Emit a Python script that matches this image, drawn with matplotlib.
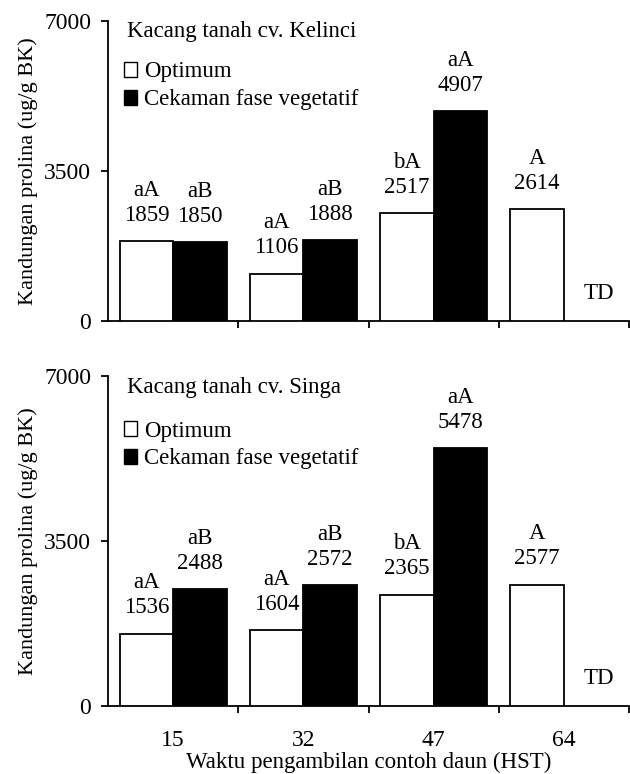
import matplotlib
matplotlib.use("Agg")
import matplotlib.pyplot as plt
from matplotlib.patches import Patch

plt.rcParams['font.family'] = ['Liberation Serif', 'DejaVu Serif']

groups = ["15", "32", "47", "64"]
titles = ["Kacang tanah cv. Kelinci", "Kacang tanah cv. Singa"]
series_names = ["Optimum", "Cekaman fase vegetatif"]

kel_opt = [1859, 1106, 2517, 2614]
kel_str = [1850, 1888, 4907, None]
kel_opt_let = ["aA", "aA", "bA", "A"]
kel_str_let = ["aB", "aB", "aA", None]

sin_opt = [1536, 1604, 2365, 2577]
sin_str = [2488, 2572, 5478, None]
sin_opt_let = ["aA", "aA", "bA", "A"]
sin_str_let = ["aB", "aB", "aA", None]

yticks = [0, 3500, 7000]
td_label = "TD"
ylabel = "Kandungan prolina (ug/g BK)"
xlabel = "Waktu pengambilan contoh daun (HST)"

fig = plt.figure(figsize=(6.3, 7.74), dpi=100)
W, H = 630, 774
def axrect(l, t, r, b):
    return [l / W, 1 - b / H, (r - l) / W, (b - t) / H]

ax1 = fig.add_axes(axrect(108, 21, 629, 321))
ax2 = fig.add_axes(axrect(108, 376, 629, 706))

width = 0.41
fs = 16.5

def draw(ax, opt, stre, optl, strl, title, show_x):
    xs = list(range(1, len(groups) + 1))
    for i, x in enumerate(xs):
        ax.bar(x - width / 2, opt[i], width, color='white', edgecolor='black', linewidth=1.3, zorder=3)
        ax.annotate(str(opt[i]), (x - width / 2, opt[i]), xytext=(0, 18.5), textcoords='offset points',
                    ha='center', va='center', fontsize=fs)
        ax.annotate(optl[i], (x - width / 2, opt[i]), xytext=(0, 36.5), textcoords='offset points',
                    ha='center', va='center', fontsize=fs)
        if stre[i] is not None:
            ax.bar(x + width / 2, stre[i], width, color='black', edgecolor='black', linewidth=1.3, zorder=3)
            ax.annotate(str(stre[i]), (x + width / 2, stre[i]), xytext=(0, 18.5), textcoords='offset points',
                        ha='center', va='center', fontsize=fs)
            ax.annotate(strl[i], (x + width / 2, stre[i]), xytext=(0, 36.5), textcoords='offset points',
                        ha='center', va='center', fontsize=fs)
        else:
            ax.annotate(td_label, (x + 0.27, 0), xytext=(0, 20), textcoords='offset points',
                        ha='center', va='center', fontsize=fs)
    ax.set_xlim(0.5, 4.5)
    ax.set_ylim(0, 7000)
    ax.set_yticks(yticks)
    ax.set_yticklabels([str(v) for v in yticks], fontsize=fs + 0.5)
    ax.tick_params(axis='y', direction='out', length=5, width=1.3, pad=7)
    ax.set_xticks([1.5, 2.5, 3.5, 4.5])
    ax.set_xticklabels([])
    ax.tick_params(axis='x', which='major', direction='out', length=5, width=1.3)
    ax.set_xticks(xs, minor=True)
    if show_x:
        ax.set_xticklabels(groups, minor=True, fontsize=fs + 0.5)
    else:
        ax.set_xticklabels([], minor=True)
    ax.tick_params(axis='x', which='minor', length=0, pad=17)
    for s in ['top', 'right']:
        ax.spines[s].set_visible(False)
    for s in ['left', 'bottom']:
        ax.spines[s].set_linewidth(1.3)
    ax.set_ylabel(ylabel, fontsize=16)
    ax.yaxis.set_label_coords(-0.135, 0.5)
    ax.text(0.036, 0.965, title, transform=ax.transAxes, ha='left', va='center', fontsize=fs)
    handles = [Patch(facecolor='white', edgecolor='black', linewidth=1.0),
               Patch(facecolor='black', edgecolor='black', linewidth=1.0)]
    ax.legend(handles, series_names, loc='upper left', bbox_to_anchor=(0.03, 0.865),
              frameon=False, fontsize=fs, handlelength=0.6, handleheight=0.6,
              handletextpad=0.3, labelspacing=0.3, borderpad=0, borderaxespad=0)

draw(ax1, kel_opt, kel_str, kel_opt_let, kel_str_let, titles[0], False)
draw(ax2, sin_opt, sin_str, sin_opt_let, sin_str_let, titles[1], True)
ax2.set_xlabel(xlabel, fontsize=fs, labelpad=1)

fig.savefig("out.png", dpi=100)
